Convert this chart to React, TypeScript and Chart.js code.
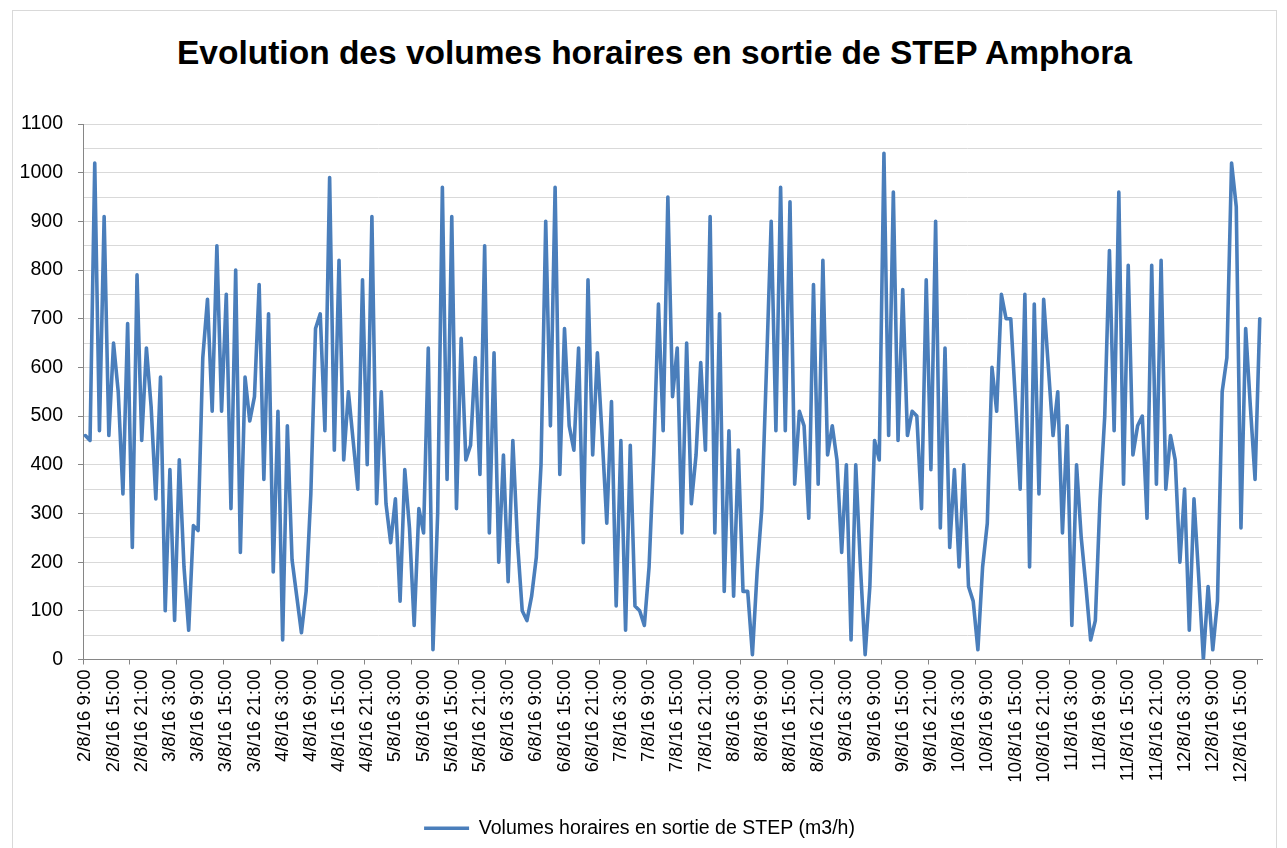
import React, { useEffect, useRef } from 'react';
import { Chart, registerables } from 'chart.js';

Chart.register(...registerables);

const TITLE = 'Evolution des volumes horaires en sortie de STEP Amphora';
const SERIES_LABEL = 'Volumes horaires en sortie de STEP (m3/h)';

// Hourly outflow volumes (m3/h), one array per day of August 2016
const DAY_02 = [460, 450, 1020, 470, 910, 460, 650, 550, 340, 690, 230, 790, 450, 640, 520]; // 9:00 - 23:00
const DAY_03 = [330, 580, 100, 390, 80, 410, 190, 60, 275, 265, 620, 740, 510, 850, 510, 750, 310, 800, 220, 580, 490, 540, 770, 370];
const DAY_04 = [710, 180, 510, 40, 480, 205, 130, 55, 140, 340, 680, 710, 470, 990, 430, 820, 410, 550, 450, 350, 780, 400, 910, 320];
const DAY_05 = [550, 320, 240, 330, 120, 390, 270, 70, 310, 260, 640, 20, 300, 970, 370, 910, 310, 660, 410, 440, 620, 380, 850, 260];
const DAY_06 = [630, 200, 420, 160, 450, 240, 100, 80, 130, 210, 400, 900, 480, 970, 380, 680, 480, 430, 640, 240, 780, 420, 630, 460];
const DAY_07 = [280, 530, 110, 450, 60, 440, 110, 100, 70, 190, 420, 730, 470, 950, 540, 640, 260, 650, 320, 420, 610, 430, 910, 260];
const DAY_08 = [710, 140, 470, 130, 430, 140, 140, 10, 180, 310, 600, 900, 470, 970, 470, 940, 360, 510, 480, 290, 770, 360, 820, 420];
const DAY_09 = [480, 410, 220, 400, 40, 400, 190, 10, 150, 450, 410, 1040, 460, 960, 450, 760, 460, 510, 500, 310, 780, 390, 900, 270];
const DAY_10 = [640, 230, 390, 190, 400, 150, 120, 20, 190, 280, 600, 510, 750, 700, 700, 530, 350, 750, 190, 730, 340, 740, 600, 460];
const DAY_11 = [550, 260, 480, 70, 400, 250, 150, 40, 80, 330, 500, 840, 470, 960, 360, 810, 420, 480, 500, 290, 810, 360, 820, 350];
const DAY_12 = [460, 410, 200, 350, 60, 330, 170, 0, 150, 20, 120, 550, 620, 1020, 930, 270, 680, 520, 370, 700]; // 0:00 - 19:00

const DAYS = [2, 3, 4, 5, 6, 7, 8, 9, 10, 11, 12];
const DAY_VALUES = [DAY_02, DAY_03, DAY_04, DAY_05, DAY_06, DAY_07, DAY_08, DAY_09, DAY_10, DAY_11, DAY_12];
const FIRST_HOUR = 9;

const Y_MIN = 0;
const Y_MAX = 1100;
const Y_STEP = 50;
const Y_LABEL_STEP = 100;
const X_LABEL_EVERY = 6;
const X_TICKMARK_EVERY = 10;

const CATEGORIES: string[] = [];
const VALUES: number[] = [];
DAYS.forEach((d, di) => {
  const vals = DAY_VALUES[di];
  const startHour = di === 0 ? FIRST_HOUR : 0;
  vals.forEach((v, k) => {
    CATEGORIES.push(`${d}/8/16 ${startHour + k}:00`);
    VALUES.push(v);
  });
});

const FONT = "'Liberation Sans', Arial, sans-serif";
const LINE_COLOR = '#4A7EBB';
const AXIS_COLOR = '#868686';
const GRID_COLOR = '#D9D9D9';
const TEXT_COLOR = '#000000';

export default function App() {
  const canvasRef = useRef<HTMLCanvasElement | null>(null);

  useEffect(() => {
    const canvas = canvasRef.current;
    if (!canvas) return;
    const chart = new Chart(canvas, {
      type: 'line',
      data: {
        labels: CATEGORIES,
        datasets: [
          {
            label: SERIES_LABEL,
            data: VALUES,
            borderColor: LINE_COLOR,
            backgroundColor: LINE_COLOR,
            borderWidth: 3.6,
            borderJoinStyle: 'round',
            borderCapStyle: 'round',
            tension: 0,
            pointRadius: 0,
            pointHoverRadius: 0,
            pointBorderWidth: 3.6,
            pointBorderColor: LINE_COLOR,
            pointBackgroundColor: LINE_COLOR,
            fill: false,
          },
        ],
      },
      options: {
        responsive: false,
        animation: false,
        events: [],
        layout: { padding: { top: 124, right: 22, left: 14, bottom: 0 } },
        plugins: {
          title: { display: false },
          tooltip: { enabled: false },
          legend: {
            display: true,
            position: 'bottom',
            labels: {
              usePointStyle: true,
              pointStyle: 'line',
              pointStyleWidth: 45,
              padding: 8,
              color: TEXT_COLOR,
              font: { family: FONT, size: 19.5 },
            },
          },
        },
        scales: {
          x: {
            type: 'category',
            offset: true,
            grid: {
              offset: true,
              drawOnChartArea: false,
              drawTicks: true,
              tickLength: 5,
              color: (ctx: any) =>
                ctx.index !== undefined && ctx.index % X_TICKMARK_EVERY === 0 ? AXIS_COLOR : 'rgba(0,0,0,0)',
              tickColor: (ctx: any) =>
                ctx.index !== undefined && ctx.index % X_TICKMARK_EVERY === 0 ? AXIS_COLOR : 'rgba(0,0,0,0)',
            },
            border: { display: true, color: AXIS_COLOR, width: 1 },
            ticks: {
              autoSkip: false,
              minRotation: 90,
              maxRotation: 90,
              padding: 5,
              color: TEXT_COLOR,
              font: { family: FONT, size: 18.5 },
              callback: (_v: any, i: number) => (i % X_LABEL_EVERY === 0 ? CATEGORIES[i] : ''),
            },
            afterFit: (scale: any) => {
              scale.height = 151;
            },
          },
          y: {
            min: Y_MIN,
            max: Y_MAX,
            grid: {
              color: GRID_COLOR,
              lineWidth: 1,
              drawTicks: true,
              tickLength: 5,
              tickColor: (ctx: any) =>
                ctx.tick && ctx.tick.value % Y_LABEL_STEP === 0 ? AXIS_COLOR : 'rgba(0,0,0,0)',
            },
            border: { display: true, color: AXIS_COLOR, width: 1 },
            ticks: {
              stepSize: Y_STEP,
              autoSkip: false,
              padding: 15,
              color: TEXT_COLOR,
              font: { family: FONT, size: 19.5 },
              callback: (v: any) => (Number(v) % Y_LABEL_STEP === 0 ? String(v) : ''),
            },
            afterFit: (scale: any) => {
              scale.width = 69;
            },
          },
        },
      },
    } as any);
    return () => chart.destroy();
  }, []);

  return (
    <div
      style={{
        position: 'absolute',
        left: 0,
        top: 0,
        width: 1287,
        height: 848,
        background: '#ffffff',
        overflow: 'hidden',
      }}
    >
      <div
        style={{
          position: 'absolute',
          left: 12,
          top: 10,
          width: 1265,
          height: 900,
          borderLeft: '1px solid #D9D9D9',
          borderTop: '1px solid #D9D9D9',
          borderRight: '1px solid #D9D9D9',
          boxSizing: 'border-box',
        }}
      />
      <div
        style={{
          position: 'absolute',
          left: 0,
          top: 34,
          width: 1309,
          textAlign: 'center',
          fontFamily: FONT,
          fontWeight: 'bold',
          fontSize: 33.5,
          lineHeight: '38px',
          color: TEXT_COLOR,
          whiteSpace: 'nowrap',
        }}
      >
        {TITLE}
      </div>
      <canvas
        ref={canvasRef}
        width={1287}
        height={848}
        style={{ position: 'absolute', left: 0, top: 0, width: 1287, height: 848 }}
      />
    </div>
  );
}
